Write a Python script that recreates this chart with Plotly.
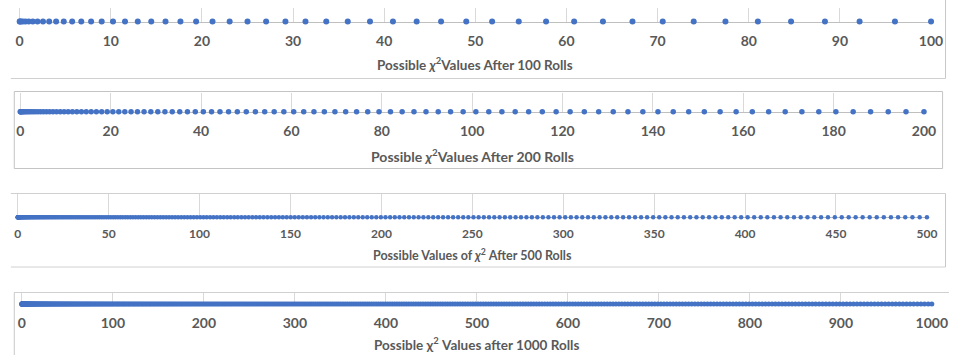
import plotly.graph_objects as go

# Possible chi-square values for each number of rolls
chi2_100 = [
    0, 0.04, 0.16, 0.36, 0.64, 1, 1.44, 1.96, 2.56, 3.24, 4, 4.84, 5.76, 6.76, 7.84, 9, 10.24,
    11.56, 12.96, 14.44, 16, 17.64, 19.36, 21.16, 23.04, 25, 27.04, 29.16, 31.36, 33.64, 36,
    38.44, 40.96, 43.56, 46.24, 49, 51.84, 54.76, 57.76, 60.84, 64, 67.24, 70.56, 73.96, 77.44,
    81, 84.64, 88.36, 92.16, 96.04, 100,
]

chi2_200 = [
    0, 0.02, 0.08, 0.18, 0.32, 0.5, 0.72, 0.98, 1.28, 1.62, 2, 2.42, 2.88, 3.38, 3.92, 4.5, 5.12,
    5.78, 6.48, 7.22, 8, 8.82, 9.68, 10.58, 11.52, 12.5, 13.52, 14.58, 15.68, 16.82, 18, 19.22,
    20.48, 21.78, 23.12, 24.5, 25.92, 27.38, 28.88, 30.42, 32, 33.62, 35.28, 36.98, 38.72, 40.5,
    42.32, 44.18, 46.08, 48.02, 50, 52.02, 54.08, 56.18, 58.32, 60.5, 62.72, 64.98, 67.28, 69.62,
    72, 74.42, 76.88, 79.38, 81.92, 84.5, 87.12, 89.78, 92.48, 95.22, 98, 100.82, 103.68, 106.58,
    109.52, 112.5, 115.52, 118.58, 121.68, 124.82, 128, 131.22, 134.48, 137.78, 141.12, 144.5,
    147.92, 151.38, 154.88, 158.42, 162, 165.62, 169.28, 172.98, 176.72, 180.5, 184.32, 188.18,
    192.08, 196.02, 200,
]

chi2_500 = [
    0, 0.008, 0.032, 0.072, 0.128, 0.2, 0.288, 0.392, 0.512, 0.648, 0.8, 0.968, 1.152, 1.352,
    1.568, 1.8, 2.048, 2.312, 2.592, 2.888, 3.2, 3.528, 3.872, 4.232, 4.608, 5, 5.408, 5.832,
    6.272, 6.728, 7.2, 7.688, 8.192, 8.712, 9.248, 9.8, 10.368, 10.952, 11.552, 12.168, 12.8,
    13.448, 14.112, 14.792, 15.488, 16.2, 16.928, 17.672, 18.432, 19.208, 20, 20.808, 21.632,
    22.472, 23.328, 24.2, 25.088, 25.992, 26.912, 27.848, 28.8, 29.768, 30.752, 31.752, 32.768,
    33.8, 34.848, 35.912, 36.992, 38.088, 39.2, 40.328, 41.472, 42.632, 43.808, 45, 46.208,
    47.432, 48.672, 49.928, 51.2, 52.488, 53.792, 55.112, 56.448, 57.8, 59.168, 60.552, 61.952,
    63.368, 64.8, 66.248, 67.712, 69.192, 70.688, 72.2, 73.728, 75.272, 76.832, 78.408, 80,
    81.608, 83.232, 84.872, 86.528, 88.2, 89.888, 91.592, 93.312, 95.048, 96.8, 98.568, 100.352,
    102.152, 103.968, 105.8, 107.648, 109.512, 111.392, 113.288, 115.2, 117.128, 119.072,
    121.032, 123.008, 125, 127.008, 129.032, 131.072, 133.128, 135.2, 137.288, 139.392, 141.512,
    143.648, 145.8, 147.968, 150.152, 152.352, 154.568, 156.8, 159.048, 161.312, 163.592,
    165.888, 168.2, 170.528, 172.872, 175.232, 177.608, 180, 182.408, 184.832, 187.272, 189.728,
    192.2, 194.688, 197.192, 199.712, 202.248, 204.8, 207.368, 209.952, 212.552, 215.168, 217.8,
    220.448, 223.112, 225.792, 228.488, 231.2, 233.928, 236.672, 239.432, 242.208, 245, 247.808,
    250.632, 253.472, 256.328, 259.2, 262.088, 264.992, 267.912, 270.848, 273.8, 276.768,
    279.752, 282.752, 285.768, 288.8, 291.848, 294.912, 297.992, 301.088, 304.2, 307.328,
    310.472, 313.632, 316.808, 320, 323.208, 326.432, 329.672, 332.928, 336.2, 339.488, 342.792,
    346.112, 349.448, 352.8, 356.168, 359.552, 362.952, 366.368, 369.8, 373.248, 376.712,
    380.192, 383.688, 387.2, 390.728, 394.272, 397.832, 401.408, 405, 408.608, 412.232, 415.872,
    419.528, 423.2, 426.888, 430.592, 434.312, 438.048, 441.8, 445.568, 449.352, 453.152,
    456.968, 460.8, 464.648, 468.512, 472.392, 476.288, 480.2, 484.128, 488.072, 492.032,
    496.008, 500,
]

chi2_1000 = [
    0, 0.004, 0.016, 0.036, 0.064, 0.1, 0.144, 0.196, 0.256, 0.324, 0.4, 0.484, 0.576, 0.676,
    0.784, 0.9, 1.024, 1.156, 1.296, 1.444, 1.6, 1.764, 1.936, 2.116, 2.304, 2.5, 2.704, 2.916,
    3.136, 3.364, 3.6, 3.844, 4.096, 4.356, 4.624, 4.9, 5.184, 5.476, 5.776, 6.084, 6.4, 6.724,
    7.056, 7.396, 7.744, 8.1, 8.464, 8.836, 9.216, 9.604, 10, 10.404, 10.816, 11.236, 11.664,
    12.1, 12.544, 12.996, 13.456, 13.924, 14.4, 14.884, 15.376, 15.876, 16.384, 16.9, 17.424,
    17.956, 18.496, 19.044, 19.6, 20.164, 20.736, 21.316, 21.904, 22.5, 23.104, 23.716, 24.336,
    24.964, 25.6, 26.244, 26.896, 27.556, 28.224, 28.9, 29.584, 30.276, 30.976, 31.684, 32.4,
    33.124, 33.856, 34.596, 35.344, 36.1, 36.864, 37.636, 38.416, 39.204, 40, 40.804, 41.616,
    42.436, 43.264, 44.1, 44.944, 45.796, 46.656, 47.524, 48.4, 49.284, 50.176, 51.076, 51.984,
    52.9, 53.824, 54.756, 55.696, 56.644, 57.6, 58.564, 59.536, 60.516, 61.504, 62.5, 63.504,
    64.516, 65.536, 66.564, 67.6, 68.644, 69.696, 70.756, 71.824, 72.9, 73.984, 75.076, 76.176,
    77.284, 78.4, 79.524, 80.656, 81.796, 82.944, 84.1, 85.264, 86.436, 87.616, 88.804, 90,
    91.204, 92.416, 93.636, 94.864, 96.1, 97.344, 98.596, 99.856, 101.124, 102.4, 103.684,
    104.976, 106.276, 107.584, 108.9, 110.224, 111.556, 112.896, 114.244, 115.6, 116.964,
    118.336, 119.716, 121.104, 122.5, 123.904, 125.316, 126.736, 128.164, 129.6, 131.044,
    132.496, 133.956, 135.424, 136.9, 138.384, 139.876, 141.376, 142.884, 144.4, 145.924,
    147.456, 148.996, 150.544, 152.1, 153.664, 155.236, 156.816, 158.404, 160, 161.604, 163.216,
    164.836, 166.464, 168.1, 169.744, 171.396, 173.056, 174.724, 176.4, 178.084, 179.776,
    181.476, 183.184, 184.9, 186.624, 188.356, 190.096, 191.844, 193.6, 195.364, 197.136,
    198.916, 200.704, 202.5, 204.304, 206.116, 207.936, 209.764, 211.6, 213.444, 215.296,
    217.156, 219.024, 220.9, 222.784, 224.676, 226.576, 228.484, 230.4, 232.324, 234.256,
    236.196, 238.144, 240.1, 242.064, 244.036, 246.016, 248.004, 250, 252.004, 254.016, 256.036,
    258.064, 260.1, 262.144, 264.196, 266.256, 268.324, 270.4, 272.484, 274.576, 276.676,
    278.784, 280.9, 283.024, 285.156, 287.296, 289.444, 291.6, 293.764, 295.936, 298.116,
    300.304, 302.5, 304.704, 306.916, 309.136, 311.364, 313.6, 315.844, 318.096, 320.356,
    322.624, 324.9, 327.184, 329.476, 331.776, 334.084, 336.4, 338.724, 341.056, 343.396,
    345.744, 348.1, 350.464, 352.836, 355.216, 357.604, 360, 362.404, 364.816, 367.236, 369.664,
    372.1, 374.544, 376.996, 379.456, 381.924, 384.4, 386.884, 389.376, 391.876, 394.384, 396.9,
    399.424, 401.956, 404.496, 407.044, 409.6, 412.164, 414.736, 417.316, 419.904, 422.5,
    425.104, 427.716, 430.336, 432.964, 435.6, 438.244, 440.896, 443.556, 446.224, 448.9,
    451.584, 454.276, 456.976, 459.684, 462.4, 465.124, 467.856, 470.596, 473.344, 476.1,
    478.864, 481.636, 484.416, 487.204, 490, 492.804, 495.616, 498.436, 501.264, 504.1, 506.944,
    509.796, 512.656, 515.524, 518.4, 521.284, 524.176, 527.076, 529.984, 532.9, 535.824,
    538.756, 541.696, 544.644, 547.6, 550.564, 553.536, 556.516, 559.504, 562.5, 565.504,
    568.516, 571.536, 574.564, 577.6, 580.644, 583.696, 586.756, 589.824, 592.9, 595.984,
    599.076, 602.176, 605.284, 608.4, 611.524, 614.656, 617.796, 620.944, 624.1, 627.264,
    630.436, 633.616, 636.804, 640, 643.204, 646.416, 649.636, 652.864, 656.1, 659.344, 662.596,
    665.856, 669.124, 672.4, 675.684, 678.976, 682.276, 685.584, 688.9, 692.224, 695.556,
    698.896, 702.244, 705.6, 708.964, 712.336, 715.716, 719.104, 722.5, 725.904, 729.316,
    732.736, 736.164, 739.6, 743.044, 746.496, 749.956, 753.424, 756.9, 760.384, 763.876,
    767.376, 770.884, 774.4, 777.924, 781.456, 784.996, 788.544, 792.1, 795.664, 799.236,
    802.816, 806.404, 810, 813.604, 817.216, 820.836, 824.464, 828.1, 831.744, 835.396, 839.056,
    842.724, 846.4, 850.084, 853.776, 857.476, 861.184, 864.9, 868.624, 872.356, 876.096,
    879.844, 883.6, 887.364, 891.136, 894.916, 898.704, 902.5, 906.304, 910.116, 913.936,
    917.764, 921.6, 925.444, 929.296, 933.156, 937.024, 940.9, 944.784, 948.676, 952.576,
    956.484, 960.4, 964.324, 968.256, 972.196, 976.144, 980.1, 984.064, 988.036, 992.016,
    996.004, 1000,
]

titles = [
    "Possible <i>χ</i><sup>2</sup>Values After 100 Rolls",
    "Possible <i>χ</i><sup>2</sup>Values After 200 Rolls",
    "Possible Values of <i>χ</i><sup>2</sup> After 500 Rolls",
    "Possible χ<sup>2</sup> Values after 1000 Rolls",
]
axis_max = [100, 200, 500, 1000]
tick_step = [10, 20, 50, 100]

W, H = 963, 355
BLUE = "#4472C4"
GREY_TEXT = "#595959"
FONT = "Lato"


def fx(px):
    return px / W


def fy(px):
    return 1 - px / H


# panel geometry in pixels: x of 0, x of max, plot top, axis line, label/title sizes
panels = [
    dict(data=chi2_100, x0=16.0, x1=946.7, top=8.0, axis=21.5, title_y=64.0,
         tick_size=14, title_size=13.5, marker=6, standoff=7),
    dict(data=chi2_200, x0=16.7, x1=939.5, top=92.5, axis=111.7, title_y=155.0,
         tick_size=14, title_size=14, marker=5.5, standoff=6),
    dict(data=chi2_500, x0=14.0, x1=942.5, top=193.5, axis=217.3, title_y=254.0,
         tick_size=12, title_size=12.5, marker=4.5, standoff=5),
    dict(data=chi2_1000, x0=18.3, x1=947.5, top=292.5, axis=304.0, title_y=344.3,
         tick_size=14, title_size=13.5, marker=5, standoff=6),
]

fig = go.Figure()
layout = dict(
    width=W, height=H, margin=dict(l=0, r=0, t=0, b=0),
    paper_bgcolor="white", plot_bgcolor="white", showlegend=False,
    annotations=[], shapes=[],
)

for i, p in enumerate(panels):
    n = i + 1
    xa = "xaxis" if n == 1 else f"xaxis{n}"
    ya = "yaxis" if n == 1 else f"yaxis{n}"
    fig.add_trace(go.Scatter(
        x=p["data"], y=[0] * len(p["data"]), mode="markers",
        marker=dict(color=BLUE, size=p["marker"], line=dict(width=0)),
        cliponaxis=False, hoverinfo="x",
        xaxis="x" if n == 1 else f"x{n}", yaxis="y" if n == 1 else f"y{n}",
    ))
    layout[xa] = dict(
        domain=[fx(p["x0"]), fx(p["x1"])], anchor="y" if n == 1 else f"y{n}",
        range=[0, axis_max[i]], tick0=0, dtick=tick_step[i],
        showgrid=True, gridcolor="#D9D9D9", gridwidth=1,
        zeroline=True, zerolinecolor="#D9D9D9", zerolinewidth=1,
        showline=True, linecolor="#BFBFBF", linewidth=1,
        layer="below traces", ticks="", ticklabelstandoff=p["standoff"],
        tickfont=dict(family=FONT, size=p["tick_size"], color=GREY_TEXT, weight="bold"),
        fixedrange=True,
    )
    layout[ya] = dict(
        domain=[fy(p["axis"]), fy(p["top"])], anchor="x" if n == 1 else f"x{n}",
        range=[0, 1], visible=False, fixedrange=True,
    )
    layout["annotations"].append(dict(
        text=titles[i], xref="paper", yref="paper",
        x=fx((p["x0"] + p["x1"]) / 2), y=fy(p["title_y"]),
        xanchor="center", yanchor="middle", showarrow=False,
        font=dict(family=FONT, size=p["title_size"], color=GREY_TEXT, weight="bold"),
    ))

# chart-area frames around each strip
frame = "#D0D0D0"


def hline(y, xa, xb, color=frame):
    return dict(type="line", xref="paper", yref="paper", x0=fx(xa), x1=fx(xb),
                y0=fy(y), y1=fy(y), line=dict(color=color, width=1))


def vline(x, ya, yb, color=frame):
    return dict(type="line", xref="paper", yref="paper", x0=fx(x), x1=fx(x),
                y0=fy(ya), y1=fy(yb), line=dict(color=color, width=1))


layout["shapes"] = [
    hline(78.5, 7, 961.5), vline(961.5, -2, 78.5, "#C8C8C8"),
    dict(type="rect", xref="paper", yref="paper", x0=fx(10.5), x1=fx(958.5),
         y0=fy(168.5), y1=fy(91.5), line=dict(color="#C4C4C4", width=1)),
    hline(193.5, 7, 961.5), hline(267.0, 7, 961.5), vline(961.5, 193.5, 267.0, "#C8C8C8"),
    hline(292.5, 10.5, 965), vline(10.5, 292.5, 360, "#C8C8C8"),
]

fig.update_layout(**layout)
fig.write_html("out.html")
